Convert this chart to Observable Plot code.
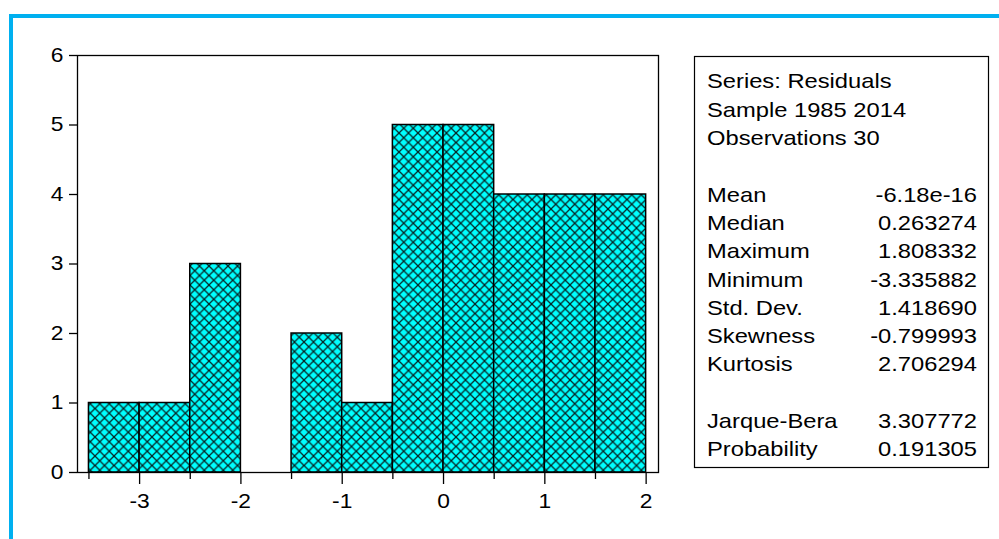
<!DOCTYPE html>
<html><head><meta charset="utf-8">
<script src="https://cdn.jsdelivr.net/npm/d3@7"></script>
<script src="https://cdn.jsdelivr.net/npm/@observablehq/plot@0.6"></script>
<style>
html,body{margin:0;padding:0;background:#fff;}
#wrap{position:relative;width:999px;height:539px;overflow:hidden;background:#fff;}
#border{position:absolute;left:9px;top:14px;right:-10px;bottom:-10px;border-top:4px solid #00b0f0;border-left:4px solid #00b0f0;}
#chart{position:absolute;left:0;top:0;}
</style></head><body>
<div id="wrap"><div id="border"></div><div id="chart"></div></div>
<script>
// Histogram data (bins of residuals)
const binLo = [-3.5, -3, -2.5, -2, -1.5, -1, -0.5, 0, 0.5, 1, 1.5];
const binHi = [-3, -2.5, -2, -1.5, -1, -0.5, 0, 0.5, 1, 1.5, 2];
const counts = [1, 1, 3, 0, 2, 1, 5, 5, 4, 4, 4];
const yTicks = [0, 1, 2, 3, 4, 5, 6];
const xMajorTicks = [-3, -2, -1, 0, 1, 2];
const xMinorTicks = [-3.5, -2.5, -1.5, -0.5, 0.5, 1.5];
// Statistics box
const statsHeader = ["Series: Residuals", "Sample 1985 2014", "Observations 30"];
const statLabels = ["Mean", "Median", "Maximum", "Minimum", "Std. Dev.", "Skewness", "Kurtosis"];
const statValues = ["-6.18e-16", "0.263274", "1.808332", "-3.335882", "1.418690", "-0.799993", "2.706294"];
const testLabels = ["Jarque-Bera", "Probability"];
const testValues = ["3.307772", "0.191305"];

const FONT = "'Liberation Sans', Arial, Helvetica, sans-serif";
const TICK_FS = 20, TICK_SX = 1.14;
const BOX_FS = 21, BOX_SX = 1.13;
const bars = binLo.map((lo, i) => ({x1: lo, x2: binHi[i], y: counts[i]})).filter(d => d.y > 0);
const fmt = d => (d < 0 ? "-" + Math.abs(d) : String(d));

const plot = Plot.plot({
  width: 999, height: 539,
  marginLeft: 77, marginTop: 55, marginRight: 341, marginBottom: 67,
  style: {fontFamily: FONT, fontSize: TICK_FS + "px", color: "#000", background: "transparent", overflow: "visible"},
  x: {domain: [-3.613, 2.122]},
  y: {domain: [0, 6]},
  marks: [
    Plot.rectY(bars, {x1: "x1", x2: "x2", y: "y", fill: "url(#hatch)", stroke: "#000", strokeWidth: 1.5}),
    Plot.frame({stroke: "#000", strokeWidth: 1.3}),
    Plot.axisY({ticks: yTicks, tickSize: 8, tickPadding: 6, label: null, tickFormat: fmt, strokeWidth: 1.3}),
    Plot.axisX({ticks: xMinorTicks, tickSize: 7, tickFormat: () => "", label: null, strokeWidth: 1.3}),
    Plot.axisX({ticks: xMajorTicks, tickSize: 12, tickPadding: 9, label: null, tickFormat: fmt, strokeWidth: 1.3})
  ]
});
document.getElementById("chart").appendChild(plot);

const svg = d3.select(plot);
// tick labels: size and slight horizontal stretch as in the reference
svg.selectAll("g[aria-label$='tick label'] text").each(function () {
  this.style.fontSize = TICK_FS + "px";
  this.style.fontFamily = FONT;
  const xa = this.getAttribute("x");
  if (xa != null) this.setAttribute("x", (+xa) / TICK_SX);
  const t = this.getAttribute("transform") || "";
  this.setAttribute("transform", t + ` scale(${TICK_SX},1)`);
});

const P = 9.5;
const defs = svg.insert("defs", ":first-child");
const pat = defs.append("pattern").attr("id", "hatch").attr("patternUnits", "userSpaceOnUse")
  .attr("width", P).attr("height", P);
pat.append("rect").attr("width", P).attr("height", P).attr("fill", "#00ffff");
pat.append("path").attr("d", `M0,0L${P},${P}M${P},0L0,${P}`).attr("stroke", "#062424").attr("stroke-width", 1.3);

// Statistics box
const box = svg.append("g").attr("font-family", FONT).attr("font-size", BOX_FS).attr("fill", "#000")
  .attr("text-anchor", "start");
box.append("rect").attr("x", 694.5).attr("y", 56.5).attr("width", 294).attr("height", 411)
  .attr("fill", "#fff").attr("stroke", "#000").attr("stroke-width", 1.2);
const y0 = 88.4, step = 28.3, xl = 707, xr = 977;
const addText = (x, y, t, anchor) => box.append("text")
  .attr("transform", `translate(${x},${y}) scale(${BOX_SX},1)`)
  .attr("text-anchor", anchor).style("font-size", BOX_FS + "px").style("font-family", FONT).text(t);
statsHeader.forEach((t, i) => addText(xl, y0 + i * step, t, "start"));
statLabels.forEach((t, i) => {
  addText(xl, y0 + (4 + i) * step, t, "start");
  addText(xr, y0 + (4 + i) * step, statValues[i], "end");
});
testLabels.forEach((t, i) => {
  addText(xl, y0 + (12 + i) * step, t, "start");
  addText(xr, y0 + (12 + i) * step, testValues[i], "end");
});
</script>
</body></html>
